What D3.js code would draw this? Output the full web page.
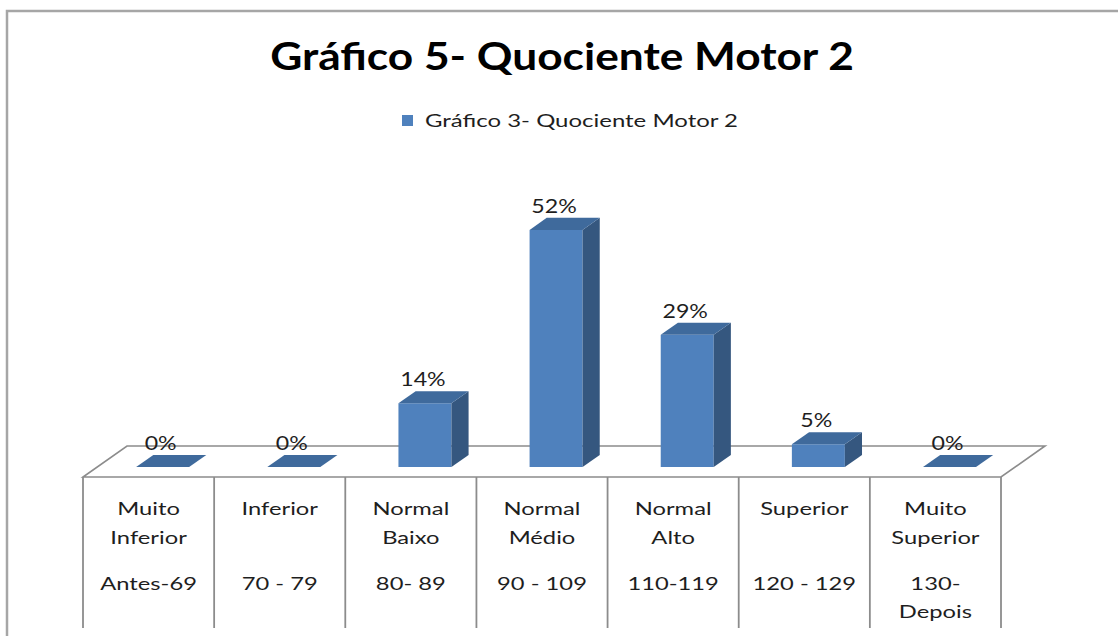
<!DOCTYPE html>
<html><head><meta charset="utf-8">
<script src="https://cdn.jsdelivr.net/npm/d3@7/dist/d3.min.js"></script>
<style>body{margin:0;background:#fff;overflow:hidden} svg{display:block}</style>
</head><body><svg id="c" width="1118" height="636"></svg>
<script>
// ---- data ----
const title = "Gráfico 5- Quociente Motor 2";
const seriesName = "Gráfico 3- Quociente Motor 2";
const categories = ["Muito Inferior","Inferior","Normal Baixo","Normal Médio","Normal Alto","Superior","Muito Superior"];
const categoryLines = [["Muito","Inferior"],["Inferior"],["Normal","Baixo"],["Normal","Médio"],["Normal","Alto"],["Superior"],["Muito","Superior"]];
const rangeLines = [["Antes-69"],["70 - 79"],["80- 89"],["90 - 109"],["110-119"],["120 - 129"],["130-","Depois"]];
const values = [0,0,14,52,29,5,0];
const valueLabels = ["0%","0%","14%","52%","29%","5%","0%"];

// ---- layout ----
const W = 1118, H = 636;
const FONT = "Lato, 'Open Sans', sans-serif";
const SX = 1.32;              // horizontal stretch of the original picture
const floorY = 477, left = 83, right = 1001;
const DX = 44, DY = -31;      // floor depth offset
const d0 = 0.32, d1 = 0.71;   // bar depth span (fraction of floor depth)
const colFront = "#4F81BD", colSide = "#35577F", colTop = "#3F6A9C";
const gridCol = "#8C8C8C";

const svg = d3.select("#c");

// border
svg.append("path").attr("d", `M7,${H} V11 H${W}`).attr("fill","none")
  .attr("stroke","#A6A6A6").attr("stroke-width",2.5);

function stext(g, str, x, y, size, weight, anchor, fill, sx) {
  return g.append("text")
    .attr("transform", `translate(${x},${y}) scale(${sx ?? SX},1)`)
    .attr("text-anchor", anchor || "middle")
    .attr("font-family", FONT).attr("font-size", size)
    .attr("font-weight", weight || "normal")
    .attr("fill", fill || "#1E1E1E")
    .text(str);
}

// title
stext(svg, title, 562, 70, 37.5, "bold", "middle", "#000", 1.18);

// legend
svg.append("rect").attr("x",402).attr("y",115).attr("width",11).attr("height",11).attr("fill",colFront);
stext(svg, seriesName, 425, 127, 17.5, "normal", "start", "#1E1E1E", 1.37);

// scales
const cell = d3.scaleBand().domain(categories).range([left, right]);
const x = d3.scaleBand().domain(categories).range([left, right]).paddingInner(0.596).paddingOuter(0.298);
const y = d3.scaleLinear().domain([0, 60]).range([floorY, floorY - 60 * 4.56]);

// floor
const floorPts = [[left, floorY],[right, floorY],[right + DX, floorY + DY],[left + DX, floorY + DY]];
svg.append("polygon").attr("points", floorPts.map(p => p.join(",")).join(" "))
  .attr("fill","#fff").attr("stroke", gridCol).attr("stroke-width",1.6);

// category separators
const bounds = categories.map(c => cell(c)).concat([right]);
svg.selectAll("line.sep").data(bounds).join("line").attr("class","sep")
  .attr("x1", d => d).attr("x2", d => d).attr("y1", floorY).attr("y2", 628)
  .attr("stroke", gridCol).attr("stroke-width", 1.8);

// bars
const bars = svg.append("g");
categories.forEach((c, i) => {
  const v = values[i];
  const bx = x(c) + d0 * DX, bw = x.bandwidth();
  const yb = y(0) + d0 * DY, yt = y(v) + d0 * DY;
  const ddx = (d1 - d0) * DX, ddy = (d1 - d0) * DY;
  // front
  bars.append("polygon").attr("fill", colFront)
    .attr("points", [[bx,yb],[bx+bw,yb],[bx+bw,yt],[bx,yt]].map(p=>p.join(",")).join(" "));
  // side
  bars.append("polygon").attr("fill", colSide)
    .attr("points", [[bx+bw,yb],[bx+bw+ddx,yb+ddy],[bx+bw+ddx,yt+ddy],[bx+bw,yt]].map(p=>p.join(",")).join(" "));
  // top
  bars.append("polygon").attr("fill", colTop)
    .attr("points", [[bx,yt],[bx+bw,yt],[bx+bw+ddx,yt+ddy],[bx+ddx,yt+ddy]].map(p=>p.join(",")).join(" "));
  // value label
  stext(svg, valueLabels[i], bx + bw / 2 - 2, y(v) + d1 * DY - 5, 19, "normal", "middle", "#1E1E1E", 1.22);
});

// category labels
const nameY = [515, 544], rangeY = [590, 618];
categories.forEach((c, i) => {
  const cx = cell(c) + cell.bandwidth() / 2;
  categoryLines[i].forEach((t, k) => stext(svg, t, cx, nameY[k], 18, "normal", "middle", "#1E1E1E"));
  rangeLines[i].forEach((t, k) => stext(svg, t, cx, rangeY[k], 18, "normal", "middle", "#1E1E1E"));
});
</script>
</body></html>
